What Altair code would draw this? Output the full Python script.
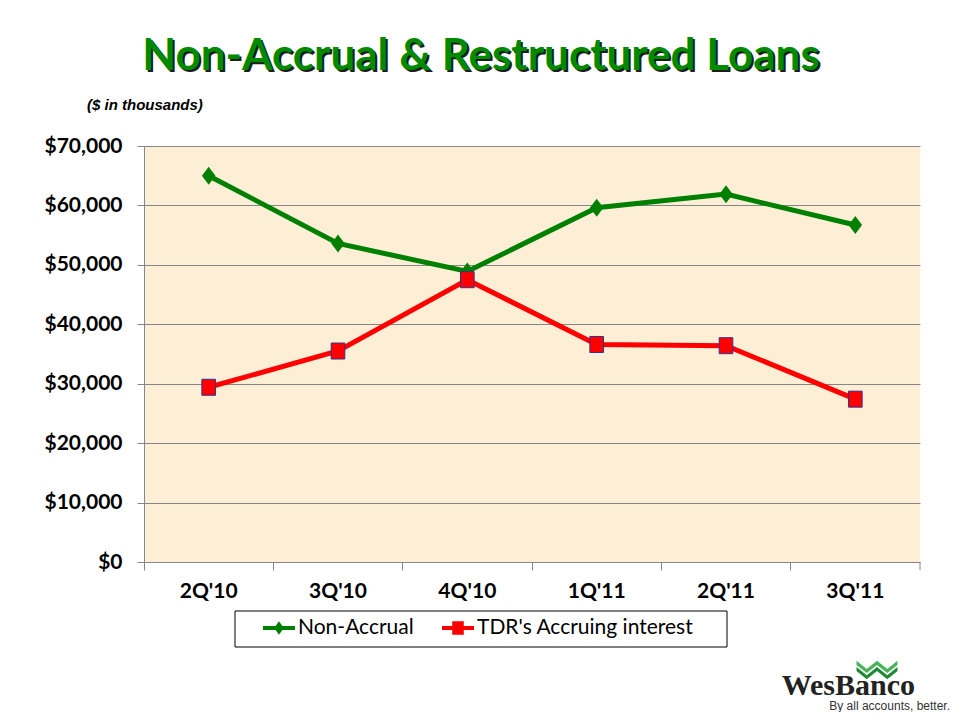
import altair as alt
import pandas as pd

quarters = ["2Q'10", "3Q'10", "4Q'10", "1Q'11", "2Q'11", "3Q'11"]
non_accrual = [65000, 53600, 48900, 59600, 61900, 56700]
tdr_accruing = [29400, 35500, 47500, 36600, 36400, 27400]
series_names = ["Non-Accrual", "TDR's Accruing interest"]
y_ticks = [0, 10000, 20000, 30000, 40000, 50000, 60000, 70000]

title_text = "Non-Accrual & Restructured Loans"
subtitle_text = "($ in thousands)"
logo_text = "WesBanco"
tagline_text = "By all accounts, better."

df = pd.DataFrame({
    "Quarter": quarters * 2,
    "Value": non_accrual + tdr_accruing,
    "Series": [series_names[0]] * len(quarters) + [series_names[1]] * len(quarters),
})

W, H = 776, 416
FONT = "Lato"
GRID = "#868686"
GREEN = "#008000"
RED = "#FF0000"

x_enc = alt.X(
    "Quarter:N", sort=quarters,
    scale=alt.Scale(type="band", paddingInner=0, paddingOuter=0),
    axis=alt.Axis(title=None, bandPosition=0, labelAngle=0,
                  labelFont=FONT, labelFontSize=21, labelFontWeight="bold",
                  labelColor="black", labelPadding=10, tickSize=8, tickColor=GRID,
                  domainColor=GRID, grid=False),
)
y_enc = alt.Y(
    "Value:Q", scale=alt.Scale(domain=[0, 70000], nice=False, zero=True),
    axis=alt.Axis(title=None, values=y_ticks, format="$,.0f", labelFont=FONT,
                  labelFontSize=21, labelFontWeight="bold", labelColor="black",
                  labelPadding=15, tickSize=7, tickColor=GRID, domainColor=GRID,
                  gridColor=GRID, gridWidth=1),
)

diamond_path = "M0,-1L0.75,0L0,1L-0.75,0Z"
square_path = "M-0.85,-1H0.85V1H-0.85Z"
na_sym = "M-1,-0.12H1V0.12H-1Z M0,-0.42L0.3,0L0,0.42L-0.3,0Z"
tdr_sym = "M-1,-0.12H1V0.12H-1Z M-0.36,-0.42H0.36V0.42H-0.36Z"

base = alt.Chart(df)
na_data = base.transform_filter(alt.datum.Series == series_names[0])
tdr_data = base.transform_filter(alt.datum.Series == series_names[1])

na_line = na_data.mark_line(strokeWidth=5, color=GREEN).encode(x=x_enc, y=y_enc)
tdr_line = tdr_data.mark_line(strokeWidth=5, color=RED).encode(x=x_enc, y=y_enc)
diamonds = na_data.mark_point(
    shape=diamond_path, filled=True, size=324, color=GREEN, opacity=1
).encode(x=x_enc, y=y_enc)
squares = tdr_data.mark_point(
    shape=square_path, filled=True, size=256, fill=RED, stroke="#3A2E8C", strokeWidth=1, opacity=1
).encode(x=x_enc, y=y_enc)

leg_props = dict(
    title=None, orient="none", legendX=119, legendY=466,
    direction="horizontal", labelFont=FONT, labelFontSize=21, labelLimit=400,
    labelColor="black", symbolSize=1024, symbolOpacity=1,
    symbolStrokeWidth=0, labelOffset=3, columnPadding=28, padding=0,
)
legend_layer = base.transform_filter("false").mark_point(filled=True, opacity=1).encode(
    x=x_enc, y=y_enc,
    color=alt.Color("Series:N", scale=alt.Scale(domain=series_names, range=[GREEN, RED]),
                    legend=alt.Legend(**leg_props)),
    shape=alt.Shape("Series:N", scale=alt.Scale(domain=series_names, range=[na_sym, tdr_sym]),
                    legend=alt.Legend(**leg_props)),
)

one = alt.Data(values=[{}])

legend_box = alt.Chart(one).mark_rect(fill="white", stroke="black", strokeWidth=1).encode(
    x=alt.value(91), x2=alt.value(583), y=alt.value(465), y2=alt.value(501))
right_tick = alt.Chart(one).mark_rule(color=GRID).encode(
    x=alt.value(W), y=alt.value(H), y2=alt.value(H + 8))

title_shadow = alt.Chart(one).mark_text(
    text=title_text, font=FONT, fontSize=44, fontWeight="bold", color="#1c1c1c",
    align="center", baseline="alphabetic").encode(x=alt.value(339), y=alt.value(-74))
title = alt.Chart(one).mark_text(
    text=title_text, font=FONT, fontSize=44, fontWeight="bold", color="#008A00",
    align="center", baseline="alphabetic").encode(x=alt.value(337), y=alt.value(-76))
subtitle = alt.Chart(one).mark_text(
    text=subtitle_text, font="Liberation Sans", fontSize=15, fontStyle="italic",
    fontWeight="bold", color="black", align="left", baseline="middle").encode(
    x=alt.value(-57), y=alt.value(-41))

chev_top = "M-1,-0.45L-0.5,-0.05L0,-0.45L0.5,-0.05L1,-0.45L1,-0.25L0.5,0.15L0,-0.25L-0.5,0.15L-1,-0.25Z"
chev_bot = "M-1,-0.15L-0.5,0.25L0,-0.15L0.5,0.25L1,-0.15L1,0.05L0.5,0.45L0,0.05L-0.5,0.45L-1,0.05Z"
logo_c1 = alt.Chart(one).mark_point(shape=chev_top, filled=True, size=1681, color="#49B35A", opacity=1).encode(
    x=alt.value(733), y=alt.value(524))
logo_c2 = alt.Chart(one).mark_point(shape=chev_bot, filled=True, size=1681, color="#1E8A35", opacity=1).encode(
    x=alt.value(733), y=alt.value(524))
logo = alt.Chart(one).mark_text(
    text=logo_text, font="Liberation Serif", fontSize=30, fontWeight="bold", color="#222222",
    align="right", baseline="alphabetic").encode(x=alt.value(771), y=alt.value(549))
tagline = alt.Chart(one).mark_text(
    text=tagline_text, font="Liberation Sans", fontSize=12, color="#333333",
    align="right", baseline="alphabetic").encode(x=alt.value(806), y=alt.value(564))

chart = alt.layer(
    legend_box, na_line, tdr_line, diamonds, squares, legend_layer, right_tick,
    title_shadow, title, subtitle, logo_c1, logo_c2, logo, tagline,
).properties(
    width=W, height=H,
    autosize=alt.AutoSizeParams(type="none"),
    padding={"left": 136, "top": 138, "right": 32, "bottom": 150},
    background="white",
).configure_view(
    fill="#FCEFD6", stroke=None,
)

chart.save("out.html", embed_options={"renderer": "svg", "actions": False})
